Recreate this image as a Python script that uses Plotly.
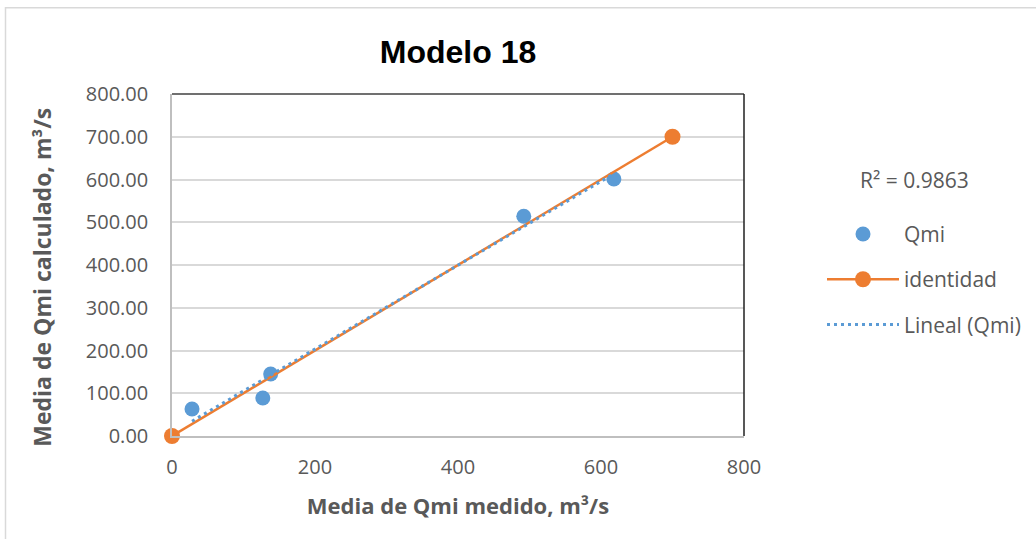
import numpy as np
import plotly.graph_objects as go

# Data
qmi_medido = [28, 127, 138, 492, 618]
qmi_calculado = [63, 89, 145, 514, 601]
identidad_x = [0, 700]
identidad_y = [0, 700]
r2_label = "R² = 0.9863"
y_ticks = [0, 100, 200, 300, 400, 500, 600, 700, 800]
x_ticks = [0, 200, 400, 600, 800]

BLUE = "#5B9BD5"
ORANGE = "#ED7D31"
FONT = "'Open Sans', Lato, sans-serif"
GREY = "#595959"

# Linear trendline from data
slope, intercept = np.polyfit(qmi_medido, qmi_calculado, 1)
tx = np.array([min(qmi_medido), max(qmi_medido)])
ty = slope * tx + intercept

fig = go.Figure()
fig.add_trace(go.Scatter(x=qmi_medido, y=qmi_calculado, mode="markers", name="Qmi",
                         marker=dict(color=BLUE, size=15), legendgroup="a", cliponaxis=False))
fig.add_trace(go.Scatter(x=identidad_x, y=identidad_y, mode="lines+markers", name="identidad",
                         line=dict(color=ORANGE, width=2.5), marker=dict(color=ORANGE, size=16),
                         legendgroup="b", cliponaxis=False))
fig.add_trace(go.Scatter(x=tx, y=ty, mode="lines", name="Lineal (Qmi)",
                         line=dict(color=BLUE, width=3, dash="3px,4px"), legendgroup="c"))

L, T = 172, 94
W, H = 572, 342.5
fig.update_layout(
    width=1036, height=539,
    margin=dict(l=L, r=1036 - L - W, t=T, b=539 - T - H, autoexpand=False),
    paper_bgcolor="white", plot_bgcolor="white",
    font=dict(family=FONT, color=GREY, size=20),
    title=dict(text="<b>Modelo 18</b>", x=458 / 1036, xanchor="center", y=1 - 52 / 539, yanchor="middle",
               font=dict(family="'Liberation Sans', Arial, sans-serif", size=32, color="black")),
    xaxis=dict(range=[0, 800], tickvals=x_ticks, showgrid=False, zeroline=False,
               showline=True, linecolor="#bfbfbf", linewidth=1.5, ticks="", ticklabelstandoff=12,
               title=dict(text="<b>Media de Qmi medido, m³/s</b>", font=dict(size=22, color=GREY), standoff=20),
               tickfont=dict(size=20, color=GREY)),
    yaxis=dict(range=[0, 800], tickvals=y_ticks, tickformat=".2f", showgrid=True, gridcolor="#d9d9d9",
               gridwidth=1.5, zeroline=False, showline=True, linecolor="#bfbfbf", linewidth=1.5, ticks="",
               ticklabelstandoff=18, tickfont=dict(size=20, color=GREY)),
    legend=dict(x=(822 - L) / W, xanchor="left", y=(436.5 - 214) / H, yanchor="top",
                font=dict(size=21, color=GREY), tracegroupgap=15, itemwidth=72,
                bgcolor="rgba(0,0,0,0)"),
    showlegend=True,
)

fig.add_annotation(text="<b>Media de Qmi calculado, m³/s</b>", xref="paper", yref="paper",
                   x=(42 - L) / W, y=(436.5 - 278) / H, xanchor="center", yanchor="middle",
                   textangle=-90, showarrow=False, font=dict(size=23, color=GREY))

fig.add_annotation(text=r2_label, xref="paper", yref="paper", x=(858 - L) / W, y=(436.5 - 180) / H,
                   xanchor="left", yanchor="middle", showarrow=False, font=dict(size=21, color=GREY))

# Plot area top/right borders (dark)
fig.add_shape(type="line", xref="paper", yref="paper", x0=0, x1=1, y0=1, y1=1,
              line=dict(color="#404040", width=1.5), layer="above")
fig.add_shape(type="line", xref="paper", yref="paper", x0=1, x1=1, y0=0, y1=1,
              line=dict(color="#202020", width=1.5), layer="above")
# Outer chart frame
fig.add_shape(type="rect", xref="paper", yref="paper", x0=(5.5 - L) / W, x1=(1100 - L) / W,
              y0=(436.5 - 600) / H, y1=(436.5 - 7.5) / H, line=dict(color="#d9d9d9", width=1.5),
              layer="below")

fig.write_html("out.html", config={"displayModeBar": False},
               post_script="document.body.style.margin='0px';")
